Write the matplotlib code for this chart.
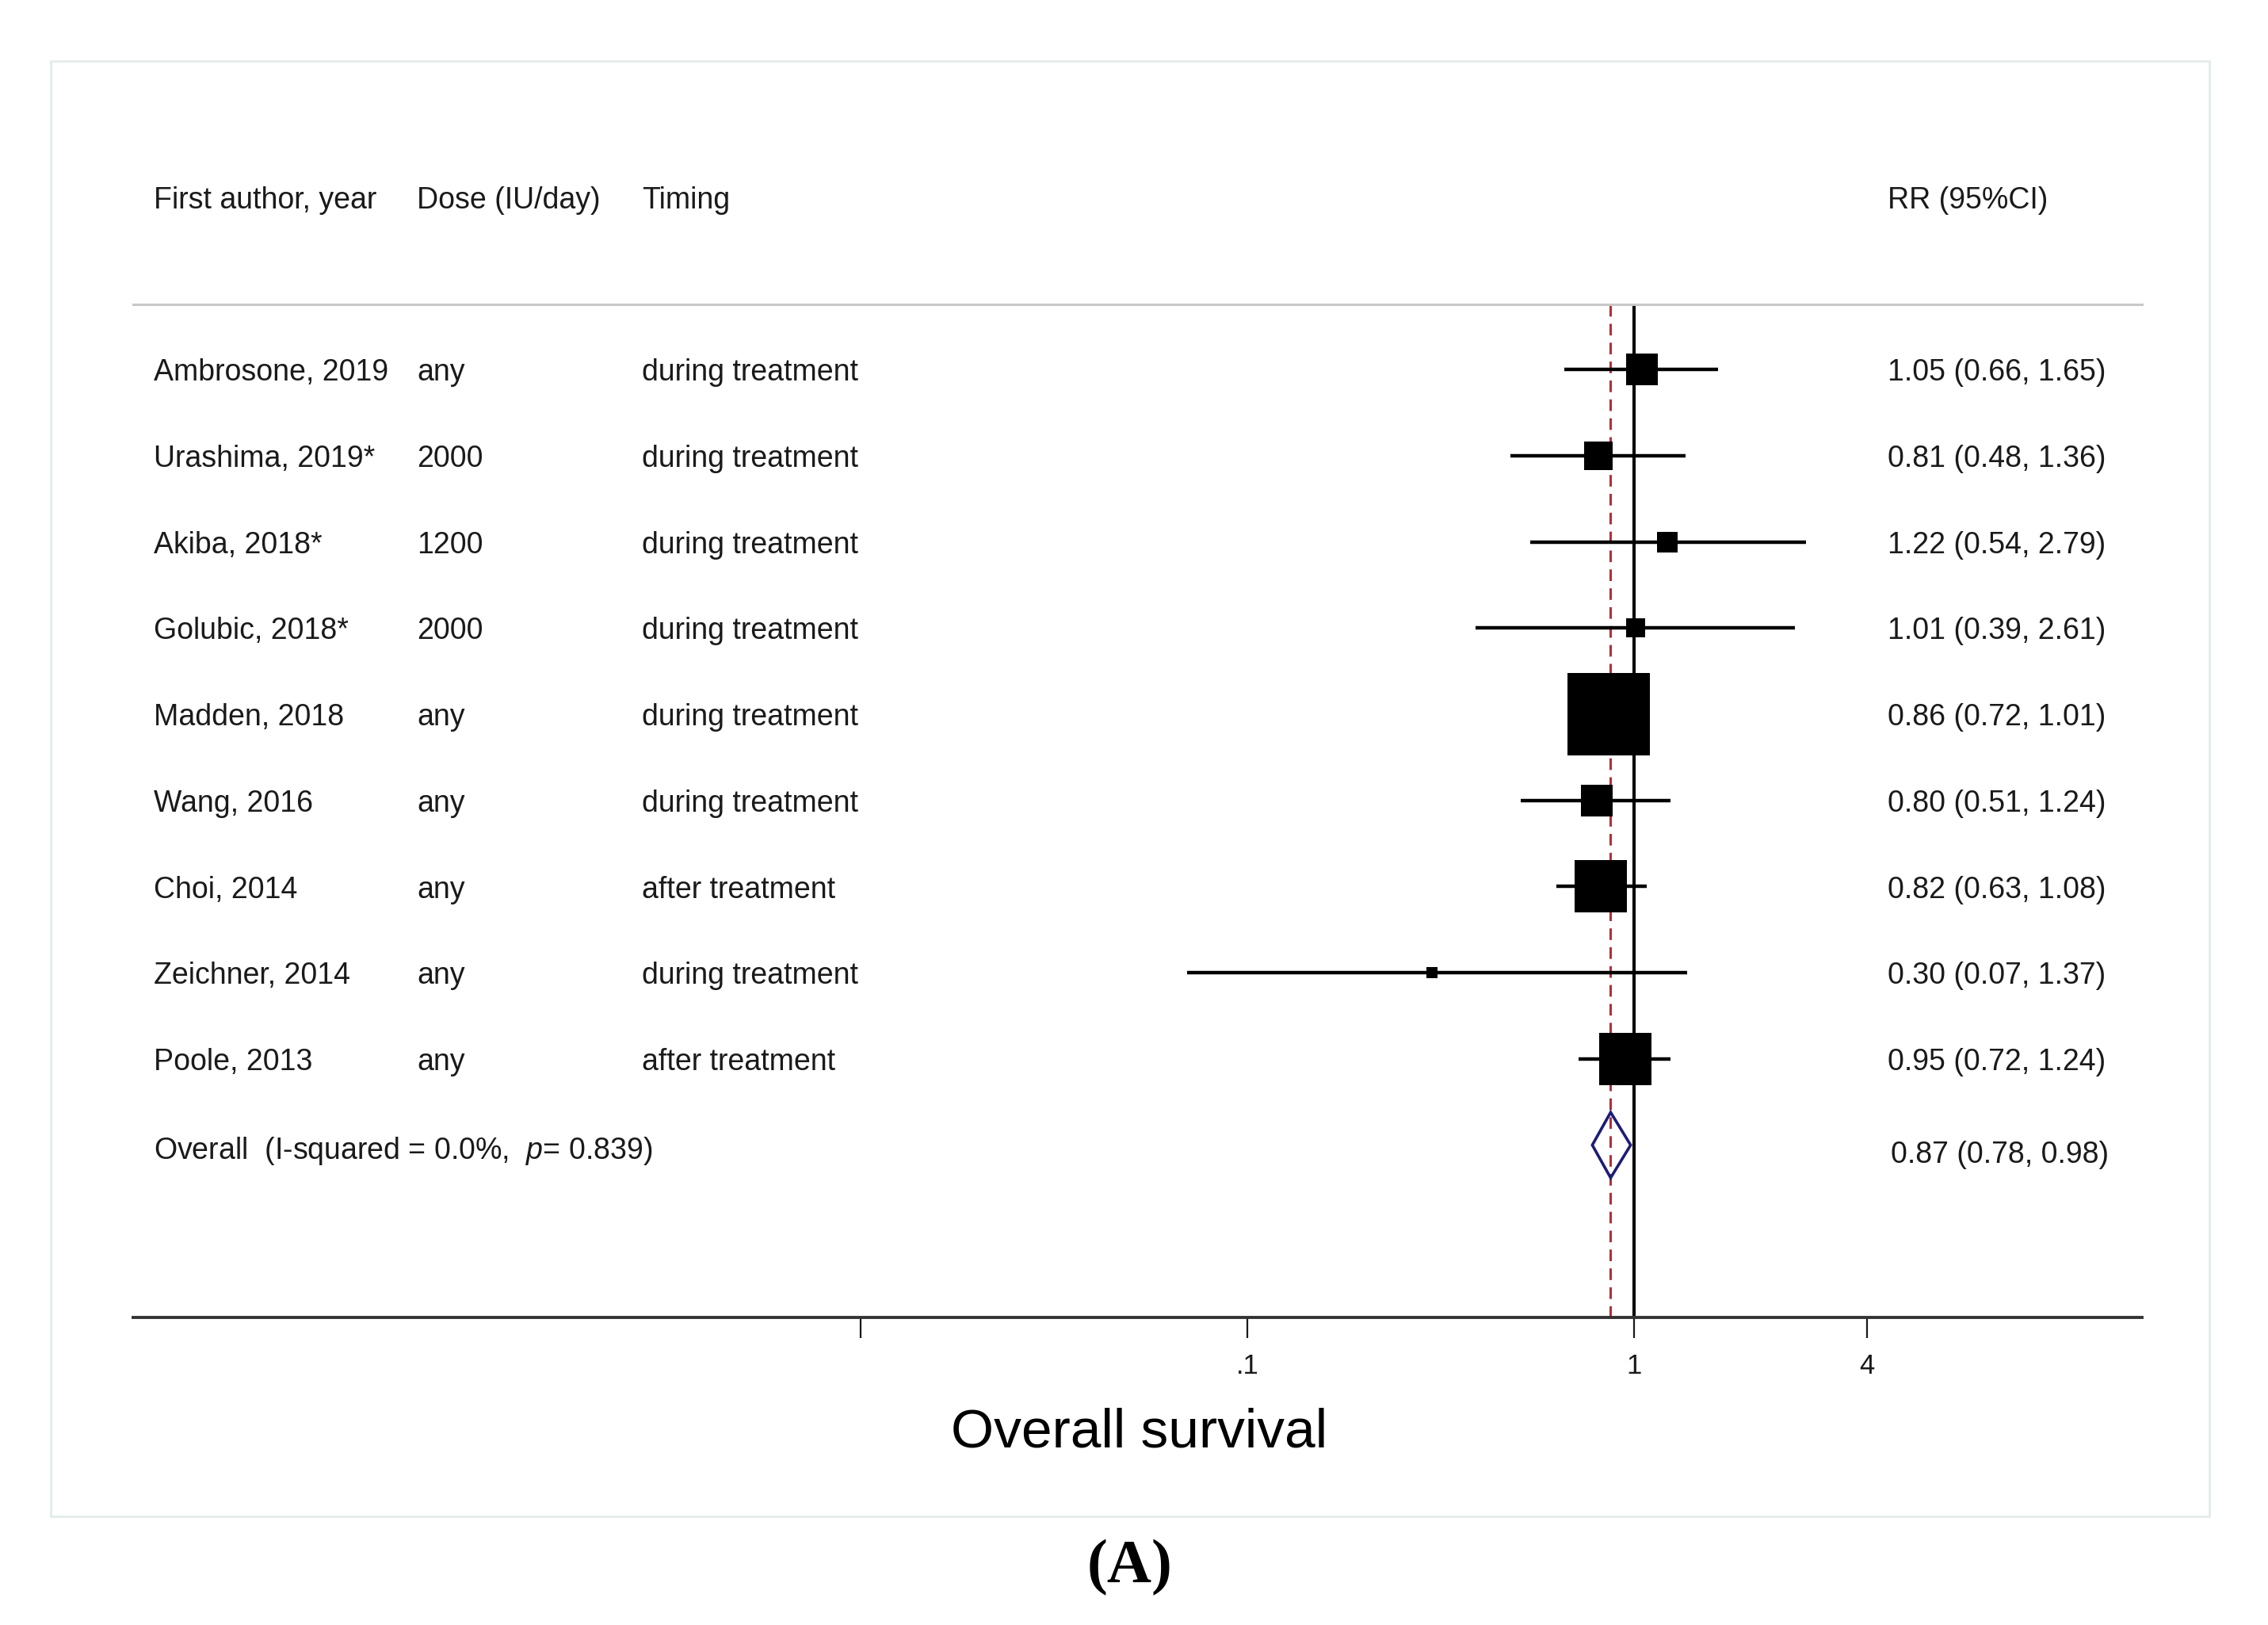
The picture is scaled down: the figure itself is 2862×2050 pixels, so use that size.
import matplotlib
matplotlib.use("Agg")
import matplotlib.pyplot as plt
import matplotlib.transforms as mtransforms
from matplotlib.patches import Rectangle, Polygon
from matplotlib.ticker import NullLocator
import numpy as np

plt.rcParams['font.family'] = ['Liberation Sans', 'DejaVu Sans']
plt.rcParams['mathtext.fontset'] = 'custom'
plt.rcParams['mathtext.rm'] = 'Liberation Sans'
plt.rcParams['mathtext.it'] = 'Liberation Sans:italic'

# data
authors = ["Ambrosone, 2019", "Urashima, 2019*", "Akiba, 2018*", "Golubic, 2018*",
           "Madden, 2018", "Wang, 2016", "Choi, 2014", "Zeichner, 2014", "Poole, 2013"]
doses = ["any", "2000", "1200", "2000", "any", "any", "any", "any", "any"]
timing = ["during treatment", "during treatment", "during treatment", "during treatment",
          "during treatment", "during treatment", "after treatment", "during treatment",
          "after treatment"]
rr = [1.05, 0.81, 1.22, 1.01, 0.86, 0.80, 0.82, 0.30, 0.95]
rr_lo = [0.66, 0.48, 0.54, 0.39, 0.72, 0.51, 0.63, 0.07, 0.72]
rr_hi = [1.65, 1.36, 2.79, 2.61, 1.01, 1.24, 1.08, 1.37, 1.24]
weights = [6.5, 5.3, 2.6, 2.1, 42.1, 6.2, 17.5, 0.8, 16.9]   # % (box area)

overall = [0.87, 0.78, 0.98]
overall_label = r"Overall  (I-squared = 0.0%,  $p$= 0.839)"
headers = ["First author, year", "Dose (IU/day)", "Timing", "RR (95%CI)"]

xticks = [0.01, 0.1, 1, 4]
xticklabels = ["", ".1", "1", "4"]

W, H = 2862, 2050
fig = plt.figure(figsize=(W / 100, H / 100), dpi=100, facecolor='white')

# outer light frame
fig.patches.append(Rectangle((64 / W, 1 - 1913 / H), (2788 - 64) / W, (1913 - 77) / H,
                             fill=False, edgecolor='#e3ebeb', lw=2,
                             transform=fig.transFigure))

ax = fig.add_axes([168 / W, 1 - 1662 / H, (2703 - 168) / W, (1662 - 384) / H])
ax.set_xscale('log')
ax.set_xlim(10 ** -3.881, 10 ** 1.3135)
ax.set_ylim(11.0, -0.755)

n = len(authors)
rows = np.arange(n)
orow = n

# reference lines
ax.axvline(1, color='black', lw=2.9, zorder=2)
ax.axvline(overall[0], color='#b0303c', lw=2.2, ls=(0, (4.8, 3.0)), zorder=1)

# CIs and boxes
ax.hlines(rows, rr_lo, rr_hi, color='black', lw=3.2, zorder=3)
for r, x, w in zip(rows, rr, weights):
    side_px = 16.0 * np.sqrt(w)
    ax.plot([x], [r], marker='s', ms=side_px * 0.72, color='black', mew=0, zorder=4)

# overall diamond
est, lo, hi = overall
ax.add_patch(Polygon([(lo, orow), (est, orow - 0.38), (hi, orow), (est, orow + 0.38)],
                     closed=True, fill=False, edgecolor='#1c1c78', lw=2.6, zorder=5))

# axes styling
for s in ['left', 'right']:
    ax.spines[s].set_visible(False)
ax.spines['top'].set_color('#c8c8c8')
ax.spines['top'].set_linewidth(2.2)
ax.spines['bottom'].set_color('#333333')
ax.spines['bottom'].set_linewidth(2.8)
ax.set_yticks([])
ax.set_xticks(xticks)
ax.set_xticklabels(xticklabels)
ax.xaxis.set_minor_locator(NullLocator())
ax.tick_params(axis='x', direction='out', length=18.7, width=1.6, pad=14,
               labelsize=25, colors='#1a1a1a')

# text columns
trans = mtransforms.blended_transform_factory(fig.transFigure, ax.transData)
col_x = [194 / W, 526 / W, 810 / W, 2382 / W]
fs = 27
dy = 0.13
for cx, h in zip(col_x, headers):
    ax.text(cx, -2 + dy, h, transform=trans, fontsize=fs, va='baseline', ha='left',
            color='#1a1a1a', clip_on=False)

for r in rows:
    ax.text(col_x[0], r + dy, authors[r], transform=trans, fontsize=fs, va='baseline',
            color='#1a1a1a', clip_on=False)
    ax.text(col_x[1], r + dy, doses[r], transform=trans, fontsize=fs, va='baseline',
            color='#1a1a1a', clip_on=False)
    ax.text(col_x[2], r + dy, timing[r], transform=trans, fontsize=fs, va='baseline',
            color='#1a1a1a', clip_on=False)
    ax.text(col_x[3], r + dy, "{:.2f} ({:.2f}, {:.2f})".format(rr[r], rr_lo[r], rr_hi[r]),
            transform=trans, fontsize=fs, va='baseline', color='#1a1a1a', clip_on=False)

ax.text(col_x[0], orow + 0.03 + dy, overall_label, transform=trans, fontsize=fs,
        va='baseline', color='#1a1a1a', clip_on=False)
ax.text(2386 / W, orow + 0.08 + dy, "{:.2f} ({:.2f}, {:.2f})".format(*overall),
        transform=trans, fontsize=fs, va='baseline', color='#1a1a1a', clip_on=False)

fig.text(1438 / W, 1 - 1825 / H, "Overall survival", fontsize=50, ha='center',
         va='baseline', color='black')
fig.text(1426 / W, 1 - 1978 / H, "(A)", fontsize=56, ha='center', va='center',
         family='Liberation Serif', fontweight='bold', color='black')

fig.savefig("out.png", dpi=100, facecolor='white')
